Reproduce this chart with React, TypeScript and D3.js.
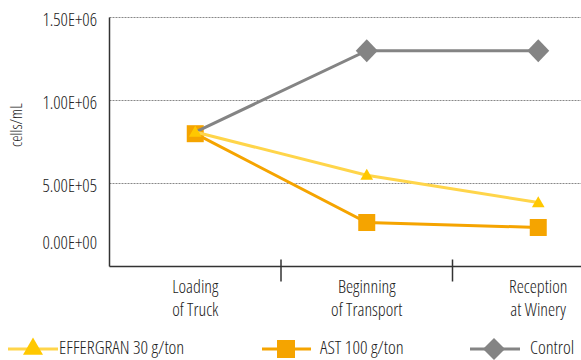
import React from "react";
import * as d3 from "d3";

const categories = [["Loading", "of Truck"], ["Beginning", "of Transport"], ["Reception", "at Winery"]];
const yTicks = [0, 5e5, 1e6, 1.5e6];
const yTickLabels = ["0.00E+00", "5.00E+05", "1.00E+06", "1.50E+06"];
const effergran = [8.1e5, 5.5e5, 3.85e5];
const ast = [8.0e5, 2.65e5, 2.35e5];
const control = [8.1e5, 1.3e6, 1.3e6];
const controlShown = [false, true, true];
const seriesNames = ["EFFERGRAN 30 g/ton", "AST 100 g/ton", "Control"];

const W = 581;
const H = 360;
const FONT = "'Open Sans', sans-serif";
const left = 109.5;
const bottom = 266.5;
const top = 17.5;
const band = 171.5;
const legendY = 349;

const YELLOW_LINE = "#FFD54A";
const YELLOW = "#FFC800";
const ORANGE = "#F5A400";
const GREY = "#848484";
const TEXT = "#222";

export default function App() {
  const x = d3
    .scaleBand<number>()
    .domain(categories.map((_, i) => i))
    .range([left, left + band * categories.length]);
  const cx = (i: number) => (x(i) as number) + x.bandwidth() / 2;
  const y = d3.scaleLinear().domain([0, 1.5e6]).range([bottom, top]);
  const line = d3
    .line<number>()
    .x((_, i) => cx(i))
    .y((d) => y(d));

  const tri = d3.symbol().type(d3.symbolTriangle);
  const triPath = (size: number) => tri.size(size)() as string;
  const diamond = (w: number, h: number) => `M0,${-h / 2}L${w / 2},0L0,${h / 2}L${-w / 2},0Z`;

  const textStyle: React.CSSProperties = { fontFamily: FONT, fontStretch: "condensed", fontWeight: 300 };

  // legend entries: line start/end, marker centre, text start
  const legend = [
    { x1: 8, x2: 58, mx: 33, tx: 59, color: YELLOW_LINE },
    { x1: 262, x2: 311, mx: 286, tx: 320, color: ORANGE },
    { x1: 470, x2: 520, mx: 494, tx: 530, color: GREY },
  ];

  return (
    <svg width={W} height={H} style={{ position: "absolute", left: 0, top: 0, background: "#fff" }}>
      {/* grid lines */}
      {yTicks.slice(1).map((t) => (
        <line key={t} x1={left} x2={W} y1={y(t)} y2={y(t)} stroke="#888" strokeWidth={1} strokeDasharray="2,1" />
      ))}
      {/* y tick labels */}
      {yTicks.map((t, i) => (
        <text
          key={t}
          x={97}
          y={t === 0 ? y(t) - 22 : y(t) + 4}
          textAnchor="end"
          dominantBaseline="middle"
          fontSize={18}
          fill={TEXT}
          style={textStyle}
        >
          {yTickLabels[i]}
        </text>
      ))}
      <text
        transform={`translate(18,125) rotate(-90)`}
        textAnchor="middle"
        dominantBaseline="middle"
        fontSize={16}
        fill={TEXT}
        style={textStyle}
      >
        cells/mL
      </text>
      {/* axes */}
      <line x1={left} x2={left} y1={top} y2={bottom} stroke="#333" strokeWidth={1.5} />
      <line x1={left} x2={W} y1={bottom} y2={bottom} stroke="#333" strokeWidth={1.5} />
      {categories.slice(1).map((_, i) => (
        <line
          key={i}
          x1={x(i + 1) as number}
          x2={x(i + 1) as number}
          y1={bottom - 7}
          y2={bottom + 15}
          stroke="#333"
          strokeWidth={1.5}
        />
      ))}
      {categories.map((c, i) => (
        <text key={i} x={cx(i)} textAnchor="middle" fontSize={18} fill={TEXT} style={textStyle}>
          <tspan x={cx(i)} y={293}>{c[0]}</tspan>
          <tspan x={cx(i)} y={316}>{c[1]}</tspan>
        </text>
      ))}

      {/* AST 100 g/ton */}
      <path d={line(ast) as string} fill="none" stroke={ORANGE} strokeWidth={3} />
      {ast.map((v, i) => (
        <rect key={i} x={cx(i) - 8.5} y={y(v) - 8.5} width={17} height={17} fill={ORANGE} />
      ))}
      {/* Control */}
      <path d={line(control) as string} fill="none" stroke={GREY} strokeWidth={3} />
      {control.map((v, i) =>
        controlShown[i] ? (
          <path key={i} d={diamond(22, 23)} transform={`translate(${cx(i)},${y(v)})`} fill={GREY} />
        ) : null
      )}
      {/* EFFERGRAN 30 g/ton */}
      <path d={line(effergran) as string} fill="none" stroke={YELLOW_LINE} strokeWidth={3} />
      {effergran.map((v, i) => (
        <path key={i} d={triPath(70)} transform={`translate(${cx(i)},${y(v) + 1})`} fill={YELLOW} />
      ))}

      {/* legend */}
      <g>
        {legend.map((l, i) => (
          <g key={i}>
            <line x1={l.x1} x2={l.x2} y1={legendY} y2={legendY} stroke={l.color} strokeWidth={3} />
            {i === 0 && <path d={triPath(173)} transform={`translate(${l.mx},${legendY})`} fill={YELLOW} />}
            {i === 1 && <rect x={l.mx - 9} y={legendY - 9} width={18} height={18} fill={ORANGE} />}
            {i === 2 && <path d={diamond(22, 22)} transform={`translate(${l.mx},${legendY})`} fill={GREY} />}
            <text x={l.tx} y={legendY} dominantBaseline="middle" fontSize={18.5} fill={TEXT} style={textStyle}>
              {seriesNames[i]}
            </text>
          </g>
        ))}
      </g>
    </svg>
  );
}
